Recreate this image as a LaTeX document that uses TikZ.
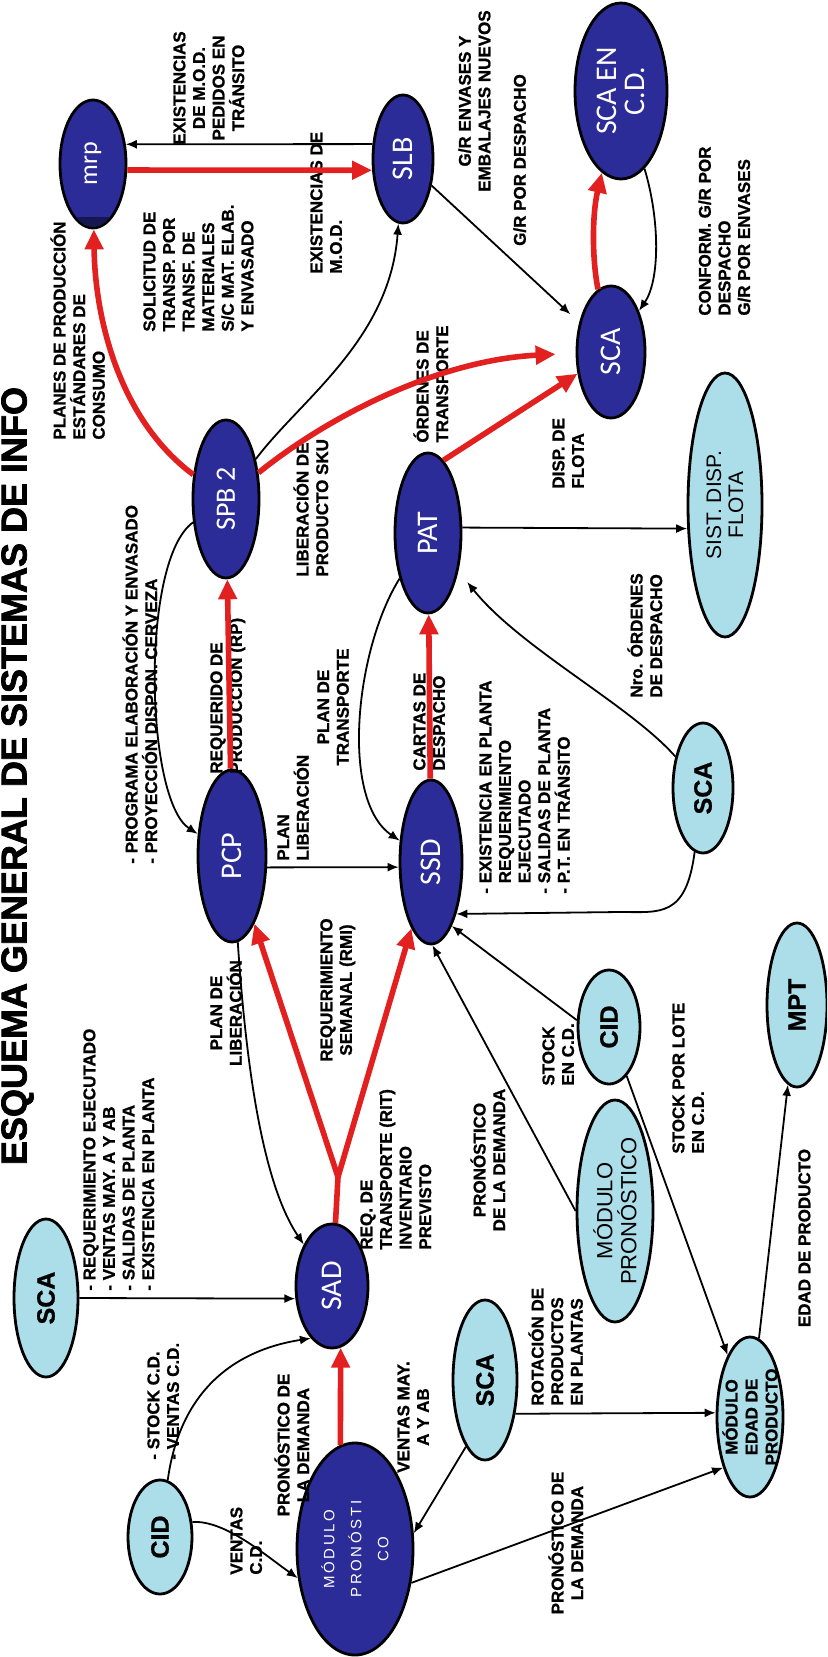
\documentclass[tikz,border=0pt]{standalone}
\usepackage{fontspec}
\setmainfont{Liberation Sans}
\newfontfamily\lblfont{Liberation Sans Bold}[FakeBold=1]
\newfontfamily\titlefont{Liberation Sans Bold}[FakeBold=2]
\newfontfamily\nodefont{Carlito}
\newfontfamily\spacedfont{Liberation Sans}[LetterSpace=18]
\usetikzlibrary{shapes.geometric,arrows.meta,calc}
\definecolor{navyfill}{RGB}{44,44,152}
\definecolor{navycap}{RGB}{22,22,80}
\definecolor{cyanfill}{RGB}{172,222,234}
\definecolor{flowred}{RGB}{226,32,32}

\begin{document}
\begin{tikzpicture}[x=0.5pt,y=-0.5pt,
  sysnode/.style={ellipse, draw=black, line width=1.4pt, inner sep=0pt, rotate=90},
  dark/.style={sysnode, fill=navyfill, text=white, font=\nodefont\fontsize{15}{14}\selectfont},
  light/.style={sysnode, fill=cyanfill, text=black, font=\lblfont\fontsize{12.5}{13}\selectfont},
  lbl/.style={rotate=90, inner sep=0pt, font=\lblfont\fontsize{8.5}{9.8}\selectfont},
  lblL/.style={lbl, align=left, anchor=north west},
  lblC/.style={lbl, align=center, anchor=north},
  flow/.style={draw=flowred, line width=2.8pt, -{Triangle[length=10pt,width=9pt]}},
  info/.style={draw=black, line width=0.9pt, -{Latex[length=5.5pt,width=4.5pt]}},
]
\useasboundingbox (0,0) rectangle (827,1657);
\fill[white] (0,0) rectangle (827,1657);
\clip (0,0) rectangle (827,1657);

% title along the left edge
\node[rotate=90, anchor=south, inner sep=0pt, font=\titlefont\fontsize{18}{18}\selectfont]
  (title) at (34,776) {ESQUEMA GENERAL DE SISTEMAS DE INFO};

% systems (dark)
\node[dark, minimum width=64pt, minimum height=33pt, font=\nodefont\fontsize{13}{13}\selectfont] (mrp) at (93,164) {mrp};
\node[dark, minimum width=64pt, minimum height=30pt] (slb) at (403,159) {SLB};
\node[dark, minimum width=88pt, minimum height=46pt, align=center] (scacd) at (621,91) {SCA EN\\C.D.};
\node[dark, minimum width=66pt, minimum height=34pt] (sca) at (611,352) {SCA};
\node[dark, minimum width=79pt, minimum height=33pt, font=\nodefont\fontsize{14}{14}\selectfont] (spb) at (226,499) {SPB 2};
\node[dark, minimum width=80pt, minimum height=33pt] (pat) at (428,533) {PAT};
\node[dark, minimum width=86pt, minimum height=34pt] (pcp) at (232,856) {PCP};
\node[dark, minimum width=82pt, minimum height=31pt] (ssd) at (431,862) {SSD};
\node[dark, minimum width=62pt, minimum height=36pt] (sad) at (332,1286) {SAD};
\node[dark, minimum width=106pt, minimum height=58pt, align=center,
      font=\spacedfont\fontsize{7.5}{13.5}\selectfont] (mpd) at (355,1549) {MÓDULO\\PRONÓSTI\\CO};

% dark cap at the foot of mrp
\begin{scope}
  \clip (mrp.center) ellipse [x radius=32, y radius=63];
  \fill[navycap] (50,217) rectangle (140,240);
\end{scope}

% systems (light)
\node[light, minimum width=132pt, minimum height=37pt, align=center,
      font=\fontsize{10.5}{11}\selectfont] (sist) at (725,505) {SIST. DISP.\\FLOTA};
\node[light, minimum width=65pt, minimum height=30pt] (scam) at (703,788) {SCA};
\node[light, minimum width=57pt, minimum height=31pt] (cidm) at (609,1027) {CID};
\node[light, minimum width=82pt, minimum height=30pt] (mpt) at (797,1005) {MPT};
\node[light, minimum width=111pt, minimum height=38pt, align=center,
      font=\fontsize{11}{12}\selectfont] (mpl) at (615,1211) {MÓDULO\\PRONÓSTICO};
\node[light, minimum width=80pt, minimum height=33pt, inner ysep=-5pt, align=center,
      font=\lblfont\fontsize{8.5}{10}\selectfont]
  (med) at (750,1417) {MÓDULO\\EDAD DE\\PRODUCTO};
\node[light, minimum width=80pt, minimum height=32pt] (scab) at (485,1380) {SCA};
\node[light, minimum width=79pt, minimum height=32pt] (scat) at (46,1298) {SCA};
\node[light, minimum width=57pt, minimum height=32pt] (cidl) at (160,1537) {CID};

% flow labels
\node[lblL] (l1) at (50,440) {PLANES DE PRODUCCIÓN\\ESTÁNDARES DE\\CONSUMO};
\node[lblC] (l2) at (173,88) {EXISTENCIAS\\DE M.O.D.\\PEDIDOS EN\\TRÁNSITO};
\node[lblL] (l3) at (143,332) {SOLICITUD DE\\TRANSP. POR\\TRANSF. DE\\MATERIALES\\S/C MAT. ELAB.\\Y ENVASADO};
\node[lblL] (l4) at (310,274) {EXISTENCIAS DE\\M.O.D.};
\node[lblC] (l5) at (458,101) {G/R ENVASES Y\\EMBALAJES NUEVOS};
\node[lblC] (l6) at (513,160) {G/R POR DESPACHO};
\node[lblL] (l7) at (698,316) {CONFORM. G/R POR\\DESPACHO\\G/R POR ENVASES};
\node[lblL] (l8) at (293,577) {LIBERACIÓN DE\\PRODUCTO SKU};
\node[lblL] (l9) at (413,443) {ÓRDENES DE\\TRANSPORTE};
\node[lblL] (l10) at (552,489) {DISP. DE\\FLOTA};
\node[lblL] (l11) at (122,864) {- PROGRAMA ELABORACIÓN Y ENVASADO\\- PROYECCIÓN DISPON. CERVEZA};
\node[lblL] (l12) at (210,774) {REQUERIDO DE\\PRODUCCIÓN (RP)};
\node[lblC] (l13) at (317,707) {PLAN DE\\TRANSPORTE};
\node[lblL] (l14) at (413,771) {CARTAS DE\\DESPACHO};
\node[lblL] (l15) at (627,698) {Nro. ÓRDENES\\DE DESPACHO};
\node[lblL] (l16) at (479,894) {- EXISTENCIA EN PLANTA\\\hphantom{- }REQUERIMIENTO\\\hphantom{- }EJECUTADO\\- SALIDAS DE PLANTA\\- P.T. EN TRÁNSITO};
\node[lblL] (l17) at (542,1086) {STOCK\\EN C.D.};
\node[lblL] (l18) at (672,1154) {STOCK POR LOTE\\EN C.D.};
\node[lblC] (l19) at (470,1160) {PRONÓSTICO\\DE LA DEMANDA};
\node[lblL] (l20) at (528,1406) {ROTACIÓN DE\\PRODUCTOS\\EN PLANTAS};
\node[lblC] (l21) at (548,1543) {PRONÓSTICO DE\\LA DEMANDA};
\node[lblC] (l22) at (798,1238) {EDAD DE PRODUCTO};
\node[lblC] (l23) at (397,1417) {VENTAS MAY.\\A Y AB};
\node[lblC] (l24) at (274,1445) {PRONÓSTICO DE\\LA DEMANDA};
\node[lblL] (l25) at (230,1575) {VENTAS\\C.D.};
\node[lblL] (l26) at (147,1460) {- STOCK C.D.\\- VENTAS C.D.};
\node[lblL] (l27) at (83,1291) {- REQUERIMIENTO EJECUTADO\\- VENTAS MAY. A Y AB\\- SALIDAS DE PLANTA\\- EXISTENCIA EN PLANTA};
\node[lblC] (l28) at (210,1013) {PLAN DE\\LIBERACIÓN};
\node[lblL] (l29) at (277,861) {PLAN\\LIBERACIÓN};
\node[lblC] (l30) at (320,990) {REQUERIMIENTO\\SEMANAL (RMI)};
\node[lblL] (l31) at (360,1250) {REQ. DE\\TRANSPORTE (RIT)\\INVENTARIO\\PREVISTO};

% main (red) flows
\draw[flow] (spb) .. controls (120,420) and (95,320) .. (mrp);
\draw[flow] (mrp.260) -- (slb.110);
\draw[flow, shorten >=10pt] (spb) .. controls (330,415) and (440,360) .. (sca.92);
\draw[flow] (pat.348) -- (sca.123);
\draw[flow] (sca) .. controls (592,260) and (592,215) .. (scacd);
\draw[flow] (pcp) -- (spb);
\draw[flow] (ssd) -- (pat);
\coordinate (fork) at (338,1177);
\draw[draw=flowred, line width=2.8pt] (sad) -- (fork);
\draw[flow] (fork) -- (pcp);
\draw[flow] (fork) -- (ssd);
\draw[flow] (mpd.8) -- (sad.188);

% information (black) flows
\draw[info] (slb.64) -- (mrp.301);
\draw[info] (spb) .. controls (300,400) and (390,340) .. (slb);
\draw[info, shorten >=6pt] (slb) -- (sca);
\draw[info] (scacd) .. controls (660,220) and (660,280) .. (sca);
\draw[info] (spb) .. controls (140,560) and (145,800) .. (pcp);
\draw[info] (pcp) .. controls (245,1050) and (260,1180) .. (sad);
\draw[info] (pcp.252) -- (ssd.99);
\draw[info] (pat) .. controls (355,650) and (340,800) .. (ssd);
\draw[info, shorten >=7pt] (scam) .. controls (630,705) and (520,648) .. (pat);
\draw[info] (pat.279) -- (sist.122);
\draw[info] (scam) .. controls (686,918) and (660,912) .. (620,912) -- (ssd.206);
\draw[info] (cidm.78) -- (ssd.198);
\draw[info] (mpl.90) -- (ssd.181);
\draw[info] (cidm) -- (med);
\draw[info] (med) -- (mpt);
\draw[info] (scab.222) -- (med.83);
\draw[info] (mpd.239) -- (med.152);
\draw[info] (scab.164) -- (mpd.285);
\draw[info] (scat.270) -- (sad.109);
\draw[info] (cidl) .. controls (180,1390) and (235,1350) .. (sad.158);
\draw[info] (cidl.295) .. controls (225,1520) and (265,1555) .. (mpd.117);
\end{tikzpicture}
\end{document}
